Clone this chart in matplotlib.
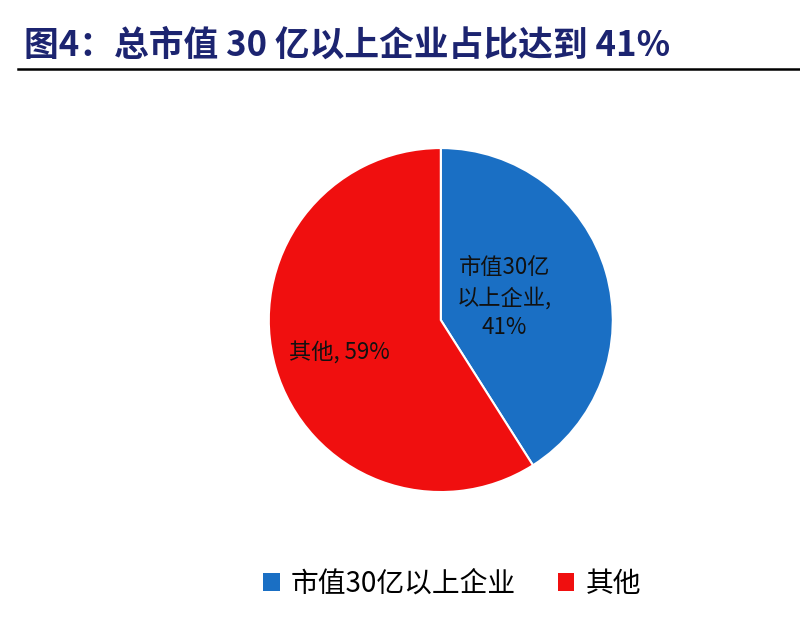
import matplotlib.pyplot as plt
from matplotlib.patches import Patch
from matplotlib.lines import Line2D

plt.rcParams['font.family'] = ['Noto Sans CJK SC', 'DejaVu Sans']

title = "图4：总市值 30 亿以上企业占比达到 41%"
labels = ["市值30亿以上企业", "其他"]
shares = [41, 59]
colors = ["#1a6fc4", "#f00f0f"]
slice_text = ["市值30亿\n以上企业,\n41%", "其他, 59%"]

fig = plt.figure(figsize=(8, 6.3), dpi=100)
fig.patch.set_facecolor("white")

fig.text(0.03, 0.928, title, fontsize=25, fontweight="bold", color="#1c2470",
         va="center", ha="left")
fig.add_artist(Line2D([0.022, 1.0], [0.89, 0.89], color="black", lw=1.8,
                      transform=fig.transFigure))

ax = fig.add_axes([0.336, 0.219, 0.43, 0.546])
wedges, _ = ax.pie(shares, colors=colors, startangle=90, counterclock=False,
                   wedgeprops=dict(edgecolor="white", linewidth=1.5))
ax.set_xlim(-1.0, 1.0)
ax.set_ylim(-1.0, 1.0)
ax.set_aspect("equal")

ax.text(0.37, 0.13, slice_text[0], ha="center", va="center", fontsize=16,
        linespacing=1.4, color="#111111")
ax.text(-0.59, -0.19, slice_text[1], ha="center", va="center", fontsize=16,
        color="#111111")

handles = [Patch(facecolor=c, edgecolor="none") for c in colors]
fig.legend(handles, labels, loc="center", bbox_to_anchor=(0.565, 0.073),
           ncol=2, frameon=False, fontsize=20, handlelength=0.6,
           handleheight=0.6, handletextpad=0.4, columnspacing=1.5)

fig.savefig("out.png", dpi=100, facecolor="white")
